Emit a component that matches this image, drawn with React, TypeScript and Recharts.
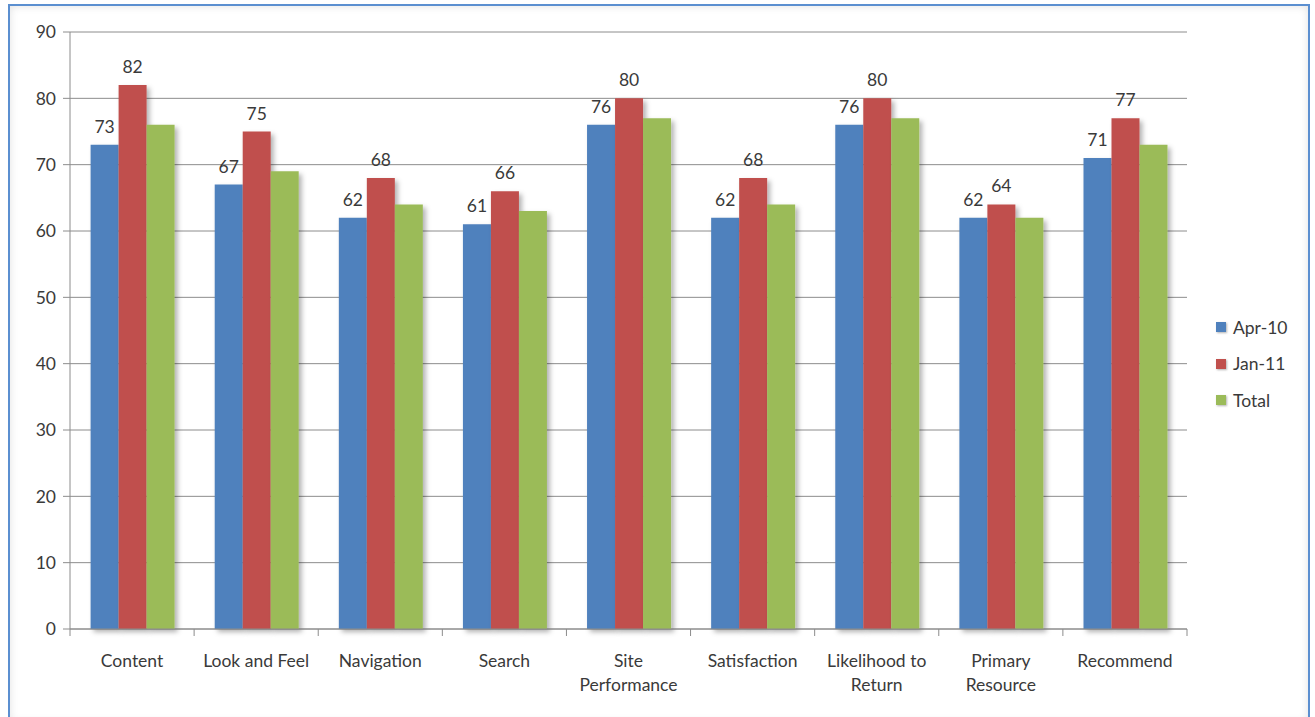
import React from 'react';
import { BarChart, Bar, XAxis, YAxis, CartesianGrid, LabelList } from 'recharts';

const categories = ['Content', 'Look and Feel', 'Navigation', 'Search', 'Site\nPerformance', 'Satisfaction', 'Likelihood to\nReturn', 'Primary\nResource', 'Recommend'];
const apr10 = [73, 67, 62, 61, 76, 62, 76, 62, 71];
const jan11 = [82, 75, 68, 66, 80, 68, 80, 64, 77];
const total = [76, 69, 64, 63, 77, 64, 77, 62, 73];
const yTicks = [0, 10, 20, 30, 40, 50, 60, 70, 80, 90];

const seriesInfo = [
  { key: 'apr10', name: 'Apr-10', color: '#4f81bd' },
  { key: 'jan11', name: 'Jan-11', color: '#c0504d' },
  { key: 'total', name: 'Total', color: '#9bbb59' },
];

const data = categories.map((c, i) => ({ name: c, apr10: apr10[i], jan11: jan11[i], total: total[i] }));

const W = 1315;
const H = 717;
const M = { top: 32, right: 128, left: 20, bottom: 28 };
const YW = 50;
const plotW = W - M.left - YW - M.right;
const band = plotW / categories.length;
const FONT = 'Lato, "Open Sans", sans-serif';
const FS = 17.5;
const TXT = '#3a3a3a';

const XTick = (props: any) => {
  const { x, y, payload, index } = props;
  const lines = String(payload.value).split('\n');
  return (
    <g>
      <line x1={x - band / 2} x2={x - band / 2} y1={y - 8} y2={y - 1} stroke="#8c8c8c" />
      {index === categories.length - 1 && (
        <line x1={x + band / 2} x2={x + band / 2} y1={y - 8} y2={y - 1} stroke="#8c8c8c" />
      )}
      <text x={x} y={y + 30} textAnchor="middle" fill={TXT} fontSize={FS} fontFamily={FONT}>
        {lines.map((l, i) => (
          <tspan key={i} x={x} dy={i === 0 ? 0 : 24}>{l}</tspan>
        ))}
      </text>
    </g>
  );
};

const LegendBox = () => (
  <div style={{ position: 'absolute', left: 1216, top: 309, fontFamily: FONT, fontSize: FS, color: TXT }}>
    {seriesInfo.map((s) => (
      <div key={s.key} style={{ display: 'flex', alignItems: 'center', height: 36.5 }}>
        <span style={{ display: 'inline-block', width: 10, height: 10, background: s.color, marginRight: 7, boxShadow: '1px 1px 2px rgba(0,0,0,0.3)' }} />
        <span>{s.name}</span>
      </div>
    ))}
  </div>
);

export default function App() {
  return (
    <div style={{ position: 'absolute', left: 0, top: 0, width: W, height: H, background: '#fff', overflow: 'hidden' }}>
      <div
        style={{
          position: 'absolute',
          left: 8,
          top: 4,
          width: 1302,
          height: 720,
          border: '2px solid #5b8fd0',
          boxShadow: 'inset 0 0 8px rgba(0,0,0,0.12)',
          boxSizing: 'border-box',
        }}
      />
      <div style={{ position: 'absolute', left: 0, top: 0 }}>
        <BarChart width={W} height={H} data={data} margin={M} barCategoryGap="16.6%" barGap={0}>
          <defs>
            <filter id="shadow" x="-20%" y="-20%" width="150%" height="140%">
              <feDropShadow dx="3" dy="3" stdDeviation="2.5" floodColor="#000" floodOpacity="0.3" />
            </filter>
          </defs>
          <CartesianGrid vertical={false} stroke="#8c8c8c" strokeWidth={1} />
          <XAxis
            dataKey="name"
            interval={0}
            tickLine={false}
            axisLine={{ stroke: '#8c8c8c' }}
            tick={<XTick />}
            height={60}
          />
          <YAxis
            domain={[0, 90]}
            ticks={yTicks}
            width={YW}
            tickSize={7}
            tickMargin={7}
            axisLine={{ stroke: '#8c8c8c' }}
            tickLine={{ stroke: '#8c8c8c' }}
            tick={{ fill: TXT, fontSize: FS, fontFamily: FONT }}
          />
          {seriesInfo.map((s) => (
            <Bar key={s.key} dataKey={s.key} name={s.name} fill={s.color} isAnimationActive={false} style={{ filter: 'url(#shadow)' }}>
              {s.key !== 'total' && (
                <LabelList dataKey={s.key} position="top" offset={12} fill={TXT} fontSize={FS} fontFamily={FONT} />
              )}
            </Bar>
          ))}
        </BarChart>
      </div>
      <LegendBox />
    </div>
  );
}
